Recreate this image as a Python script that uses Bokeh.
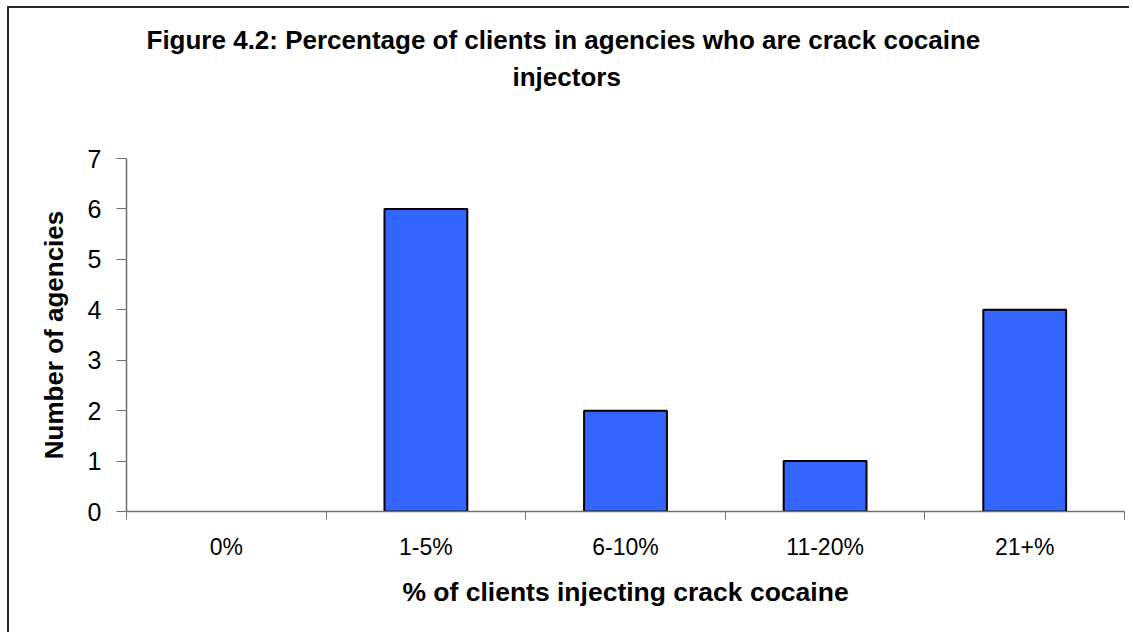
from bokeh.plotting import figure
from bokeh.models import FixedTicker, Range1d, Title, ColumnDataSource
from bokeh.embed import file_html
from bokeh.resources import INLINE

categories = ["0%", "1-5%", "6-10%", "11-20%", "21+%"]
agencies = [0, 6, 2, 1, 4]
y_ticks = [0, 1, 2, 3, 4, 5, 6, 7]
title_lines = ["Figure 4.2: Percentage of clients in agencies who are crack cocaine", "injectors"]

FONT = "Liberation Sans"
AXIS_COL = "#6e6e6e"

xs = [i + 0.5 for i in range(len(categories))]
src = ColumnDataSource(dict(x=xs, top=agencies,
                            lc=["black" if v > 0 else None for v in agencies]))

p = figure(width=1122, height=626, output_backend="svg", toolbar_location=None,
           x_range=Range1d(0, len(categories)), y_range=Range1d(0, 7),
           min_border_left=117, min_border_right=7, min_border_top=150, min_border_bottom=123,
           margin=(6, 0, 0, 7))
p.styles = {"border-left": "2px solid #2a2a2a", "border-top": "2px solid #2a2a2a"}

p.vbar(x="x", top="top", width=0.415, source=src, fill_color="#3366FF",
       line_color="lc", line_width=2)

# title block: blank spacer next to the frame, then the two title lines outward
p.add_layout(Title(text=" ", standoff=54, text_font_size="10px"), "above")
p.add_layout(Title(text=title_lines[1], align="left", offset=386, standoff=0,
                   text_font=FONT, text_font_size="26px", text_font_style="bold",
                   text_color="black"), "above")
p.add_layout(Title(text=title_lines[0], align="left", offset=20, standoff=9,
                   text_font=FONT, text_font_size="26px", text_font_style="bold",
                   text_color="black"), "above")

p.grid.visible = False
p.outline_line_color = None
p.background_fill_color = "white"
p.border_fill_color = "white"

# x axis
p.xaxis.ticker = FixedTicker(ticks=xs, minor_ticks=list(range(len(categories) + 1)))
p.xaxis.major_label_overrides = {x: c for x, c in zip(xs, categories)}
p.xaxis.major_tick_out = 0
p.xaxis.major_tick_in = 0
p.xaxis.minor_tick_out = 8
p.xaxis.minor_tick_in = 0
p.xaxis.minor_tick_line_color = AXIS_COL
p.xaxis.axis_line_color = AXIS_COL
p.xaxis.axis_line_width = 1.5
p.xaxis.major_label_text_font = FONT
p.xaxis.major_label_text_font_size = "23px"
p.xaxis.major_label_text_color = "black"
p.xaxis.major_label_standoff = 14
p.xaxis.axis_label = "% of clients injecting crack cocaine"
p.xaxis.axis_label_text_font = FONT
p.xaxis.axis_label_text_font_size = "26.5px"
p.xaxis.axis_label_text_font_style = "bold"
p.xaxis.axis_label_text_color = "black"
p.xaxis.axis_label_standoff = 14

# y axis
p.yaxis.ticker = FixedTicker(ticks=y_ticks, minor_ticks=[])
p.yaxis.major_tick_out = 10
p.yaxis.major_tick_in = 0
p.yaxis.major_tick_line_color = AXIS_COL
p.yaxis.axis_line_color = AXIS_COL
p.yaxis.axis_line_width = 1.5
p.yaxis.major_label_text_font = FONT
p.yaxis.major_label_text_font_size = "25px"
p.yaxis.major_label_text_color = "black"
p.yaxis.major_label_standoff = 15
p.yaxis.axis_label = "Number of agencies"
p.yaxis.axis_label_text_font = FONT
p.yaxis.axis_label_text_font_size = "26px"
p.yaxis.axis_label_text_font_style = "bold"
p.yaxis.axis_label_text_color = "black"
p.yaxis.axis_label_standoff = 16

open("out.html", "w").write(file_html(p, INLINE))
